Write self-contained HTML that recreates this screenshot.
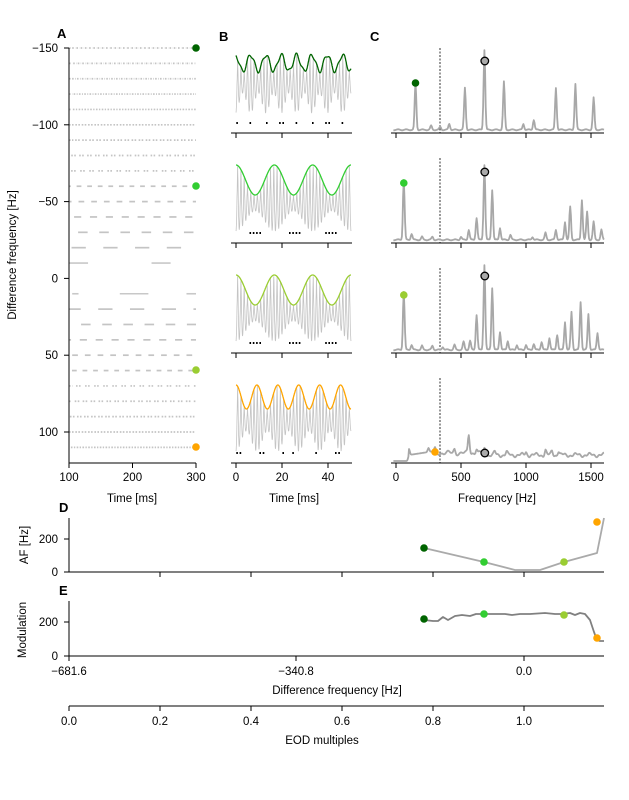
<!DOCTYPE html>
<html><head><meta charset="utf-8"><style>
body{margin:0;background:#fff}
svg{display:block;font-family:"Liberation Sans","DejaVu Sans",sans-serif}
text{font-size:11.5px;fill:#000}
.b{font-weight:bold;font-size:13px}
</style></head><body>
<svg id="s" width="629" height="800" viewBox="0 0 629 800" xmlns="http://www.w3.org/2000/svg">
<rect width="629" height="800" fill="#fff"/>
<g id="g"></g>
<text class="b" x="57" y="38">A</text>
<text class="b" x="219" y="41">B</text>
<text class="b" x="370" y="41">C</text>
<text class="b" x="59" y="512">D</text>
<text class="b" x="59" y="595">E</text>
<text x="132" y="502" text-anchor="middle">Time [ms]</text>
<text x="294" y="502" text-anchor="middle">Time [ms]</text>
<text x="497" y="502" text-anchor="middle">Frequency [Hz]</text>
<text transform="translate(16,255) rotate(-90)" text-anchor="middle">Difference frequency [Hz]</text>
<text transform="translate(28,545) rotate(-90)" text-anchor="middle">AF [Hz]</text>
<text transform="translate(26,630) rotate(-90)" text-anchor="middle">Modulation</text>
<text x="337" y="694" text-anchor="middle">Difference frequency [Hz]</text>
<text x="322" y="744" text-anchor="middle">EOD multiples</text>
</svg>
<script>
(function(){
var g=document.getElementById('g'),h='';
function L(x1,y1,x2,y2,c,w,extra){h+='<line x1="'+x1+'" y1="'+y1+'" x2="'+x2+'" y2="'+y2+'" stroke="'+(c||'#000')+'" stroke-width="'+(w||1)+'" '+(extra||'')+'/>';}
function TX(x,y,t,a){h+='<text x="'+x+'" y="'+y+'" text-anchor="'+(a||'middle')+'">'+t+'</text>';}
function P(pts,c,w,extra){h+='<polyline fill="none" stroke="'+c+'" stroke-width="'+w+'" stroke-linejoin="round" points="'+pts.map(function(p){return p[0].toFixed(1)+','+p[1].toFixed(1)}).join(' ')+'" '+(extra||'')+'/>';}
function C(x,y,f,st){h+='<circle cx="'+x+'" cy="'+y+'" r="3.8" fill="'+f+'" '+(st?'stroke="#000" stroke-width="1.3"':'')+'/>';}
var cols=['#006400','#32cd32','#9acd32','#ffa500'];
function ay(v){return 48+(v+150)*1.536;}
function ax(t){return 69+(t-100)*0.635;}
for(var df=-150;df<=110;df+=10){
  var yy=ay(df);
  if(df==0||df==-10||df==10){continue;}
  var a=Math.abs(df),T0=1000/a;
  var dur=T0*(a>=90?0.75:(a>=70?0.6:0.45));
  var ph=(df*7.3)%T0; if(ph<0)ph+=T0;
  for(var t=100+ph-T0;t<300;t+=T0){
    var s=Math.max(100,t),e=Math.min(300,t+dur);
    if(e>s) L(ax(s),yy,ax(e),yy,'#c4c4c4',1.7,a>=70?'stroke-dasharray="1.6 1.4"':'');
  }
}
L(ax(100),ay(-10),ax(130),ay(-10),'#c8c8c8',1.6);
L(ax(230),ay(-10),ax(260),ay(-10),'#c8c8c8',1.6);
L(ax(105),ay(10),ax(115),ay(10),'#c8c8c8',1.6);
L(ax(180),ay(10),ax(225),ay(10),'#c8c8c8',1.6);
L(ax(285),ay(10),ax(300),ay(10),'#c8c8c8',1.6);
L(69,48,69,463);L(69,463,196,463);
[-150,-100,-50,0,50,100].forEach(function(v){var y=ay(v);L(64,y,69,y);TX(58,y+4,(v<0?'\u2212':'')+Math.abs(v),'end');});
[100,200,300].forEach(function(v){L(ax(v),463,ax(v),468);TX(ax(v),481,v);});
C(196,48,cols[0]);C(196,186,cols[1]);C(196,370,cols[2]);C(196,447,cols[3]);
var bb=[133,243,353,463],dfs=[150,60,60,110];
function bx(t){return 236+t*2.3;}
for(var i=0;i<4;i++){
  var B=bb[i],tp=B-78,per=1000/dfs[i];
  var env=[],wav=[];
  for(var t=0;t<=50;t+=0.05){
    var m=0.5+0.5*Math.cos(2*Math.PI*t/per+(i==0?0.3:0));
    var e=tp+(1-m)*(i==0?16:(i==3?24:30))+(i==0?(Math.sin(t*2.1)*2):0);
    env.push([bx(t),e]);
    var c=0.5+0.5*Math.cos(2*Math.PI*t*0.7);
    var low=B-12-(i==0?8:0)-(1-m)*20;
    wav.push([bx(t),e+(low-e)*Math.pow(c,0.6)]);
  }
  P(wav,'#c4c4c4',0.8);
  P(env,cols[i],1.3);
  for(var t=0.5;t<50;t+=1.43){
    var m=0.5+0.5*Math.cos(2*Math.PI*t/per+(i==0?0.3:0));
    if((i==0&&m>0.8)||(i>0&&i<3&&m<0.25)||(i==3&&m>0.3&&(Math.round(t*3)%2==0))) h+='<rect x="'+(bx(t)-0.8).toFixed(1)+'" y="'+(B-11)+'" width="1.6" height="2" fill="#000"/>';
  }
  L(231,B,352,B);
  [0,20,40].forEach(function(v){L(bx(v),B,bx(v),B+5);if(i==3)TX(bx(v),481,v);});
}
function cx(f){return 396+f*0.13;}
var peaks=[
 [[150,48],[270,4],[340,3],[410,6],[530,42],[680,80],[830,48],[980,6],[1060,10],[1230,42],[1380,46],[1520,32]],
 [[60,60],[120,6],[200,3],[280,3],[500,3],[560,10],[620,22],[680,75],[740,50],[800,12],[880,5],[1150,7],[1230,10],[1300,18],[1340,33],[1430,40],[1470,28],[1520,18],[1580,10],[1050,3]],
 [[60,58],[120,5],[200,4],[280,4],[360,3],[450,5],[520,8],[570,9],[620,35],[680,85],[740,62],[800,18],[860,9],[930,5],[1000,5],[1060,6],[1120,8],[1180,12],[1240,15],[1300,28],[1350,38],[1420,48],[1480,36],[1550,17]],
 [[100,6],[250,4],[300,4],[560,18],[450,4],[620,5],[680,4],[760,3],[1150,5],[1200,4],[1250,4],[1000,3],[850,3]]];
var cm=[[[150,83,cols[0],0],[683,61,'#aaa',1]],[[60,183,cols[1],0],[683,172,'#aaa',1]],[[60,295,cols[2],0],[683,276,'#aaa',1]],[[300,452,cols[3],0],[683,453,'#aaa',1]]];
for(var i=0;i<4;i++){
  var B=bb[i],pts=[];
  L(440,B-85,440,B,'#000',0.8,'stroke-dasharray="2 1.5"');
  for(var f=-20;f<=1600;f+=5){
    var v=0;peaks[i].forEach(function(p){v+=p[1]*Math.exp(-Math.pow((f-p[0])/9,2));});
    var base;
    if(i==3){base=f<100?0:(f<300?4+f*0.02:8+1.5*Math.sin(f*0.05)+1*Math.sin(f*0.13));if(f>700)base=6+1.5*Math.sin(f*0.06)+0.8*Math.sin(f*0.17);}
    else base=1.2+0.5*Math.sin(f*0.1);
    pts.push([cx(f),B-2-base-v]);
  }
  P(pts,'#a8a8a8',1.8);
  cm[i].forEach(function(c){C(cx(c[0]),c[1],c[2],c[3]);});
  L(391,B,604,B);
  [0,500,1000,1500].forEach(function(v){L(cx(v),B,cx(v),B+5);if(i==3)TX(cx(v),481,v);});
}
L(69,518,69,572);L(69,572,604,572);
[[0,572],[200,539]].forEach(function(p){L(64,p[1],69,p[1]);TX(58,p[1]+4,p[0],'end');});
[160,251,342,433,524].forEach(function(x){L(x,572,x,577);});
P([[424,548],[484,562],[515,570],[540,570],[564,562],[597,553],[604,518]],'#aaa',1.8);
C(424,548,cols[0]);C(484,562,cols[1]);C(564,562,cols[2]);C(597,522,cols[3]);
L(69,601,69,656);L(69,656,604,656);
[[0,656],[200,622]].forEach(function(p){L(64,p[1],69,p[1]);TX(58,p[1]+4,p[0],'end');});
[[-681.6,69],[-340.8,296],[0.0,524]].forEach(function(p){L(p[1],656,p[1],661);TX(p[1],675,(p[0]<0?'\u2212':'')+Math.abs(p[0]).toFixed(1));});
P([[424,620],[433,621],[438,621],[443,617],[448,620],[455,616],[462,615],[470,616],[476,614],[484,614],[495,614],[505,614],[512,615],[520,614],[530,614],[545,613],[555,614],[562,614],[570,613],[575,615],[580,613],[585,614],[590,620],[594,632],[597,640],[600,641],[604,641]],'#808080',1.8);
C(424,619,cols[0]);C(484,614,cols[1]);C(564,615,cols[2]);C(597,638,cols[3]);
L(69,706,604,706);
[0,0.2,0.4,0.6,0.8,1.0].forEach(function(v,k){var x=69+k*91;L(x,706,x,711);TX(x,725,v.toFixed(1));});
g.innerHTML=h;
})();
</script>
</body></html>
